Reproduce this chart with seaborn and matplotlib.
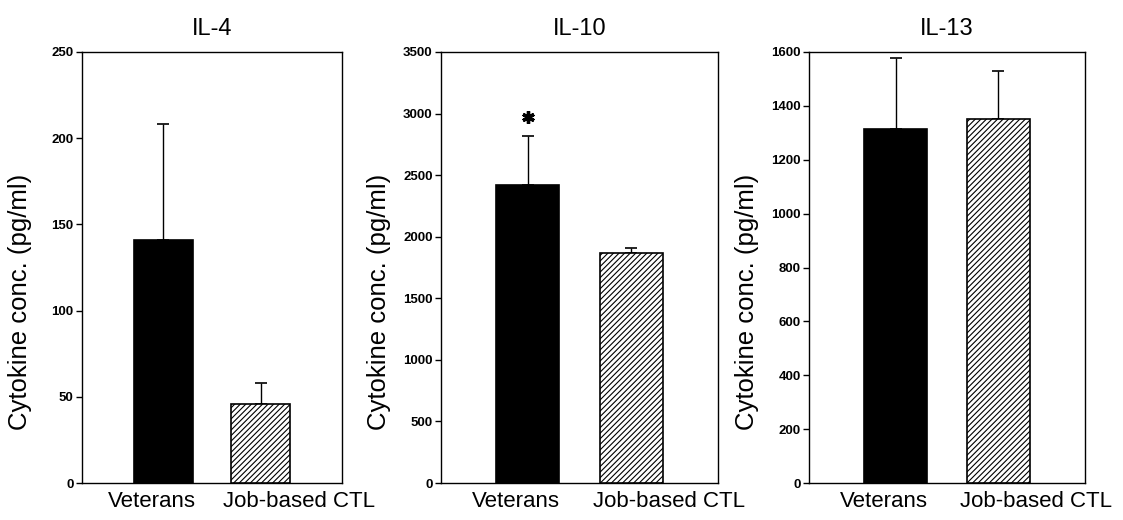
import matplotlib
matplotlib.use("Agg")
import matplotlib.pyplot as plt
import matplotlib.transforms as mtransforms
import seaborn as sns
import pandas as pd

groups = ["Veterans", "Job-based CTL"]
titles = ["IL-4", "IL-10", "IL-13"]
il4_mean = [141, 46]
il4_err = [67, 12]
il10_mean = [2420, 1870]
il10_err = [400, 40]
il13_mean = [1313, 1351]
il13_err = [265, 180]
ylims = [250, 3500, 1600]
ysteps = [50, 500, 200]
ylabel = "Cytokine conc. (pg/ml)"

sns.set_style("ticks")
plt.rcParams["font.family"] = ["Liberation Sans", "DejaVu Sans"]
plt.rcParams["hatch.linewidth"] = 0.8
for k in ["text.color", "axes.labelcolor", "xtick.color", "ytick.color"]:
    plt.rcParams[k] = "black"

fig = plt.figure(figsize=(11.23, 5.2), dpi=100)
W, H = 1123, 520
boxes = [(82, 342), (441, 718), (809, 1085)]
top, bottom = 52, 483

means = [il4_mean, il10_mean, il13_mean]
errs = [il4_err, il10_err, il13_err]

for i in range(3):
    l, r = boxes[i]
    ax = fig.add_axes([l / W, (H - bottom) / H, (r - l) / W, (bottom - top) / H])
    df = pd.DataFrame({"group": groups, "value": means[i]})
    sns.barplot(data=df, x="group", y="value", ax=ax, color="black",
                edgecolor="black", linewidth=1.2, width=0.61, errorbar=None,
                zorder=3)
    ax.patches[1].set_facecolor("white")
    ax.patches[1].set_hatch("//////")
    ax.errorbar([0, 1], means[i], yerr=[[0, 0], errs[i]], fmt="none",
                ecolor="black", elinewidth=1.0, capsize=4.3, capthick=1.2,
                zorder=2)
    ax.set_xlim(-0.84, 1.84)
    ax.set_ylim(0, ylims[i])
    ax.set_yticks(range(0, ylims[i] + 1, ysteps[i]))
    ax.tick_params(axis="y", direction="out", length=4, width=1, pad=2,
                   labelsize=9.5)
    for t in ax.get_yticklabels():
        t.set_fontweight("bold")
    ax.tick_params(axis="x", length=0, pad=6, labelsize=16)
    ax.set_xlabel("")
    ax.set_ylabel(ylabel, fontsize=18.5)
    ax.yaxis.set_label_coords(-50 / (r - l), 0.42)
    ax.set_title(titles[i], fontsize=17, pad=12)
    for sp in ax.spines.values():
        sp.set_visible(True)
        sp.set_linewidth(1.0)
        sp.set_color("black")
    offs = [-12, 38]
    for lab, dx in zip(ax.get_xticklabels(), offs):
        lab.set_transform(lab.get_transform() +
                          mtransforms.ScaledTranslation(dx / 100, 0, fig.dpi_scale_trans))
    if i == 1:
        ax.plot([0], [means[i][0] + errs[i][0] + 155], marker=(6, 2, 0),
                markersize=9, mew=2.4, color="black", linestyle="none")

fig.savefig("out.png", dpi=100)
